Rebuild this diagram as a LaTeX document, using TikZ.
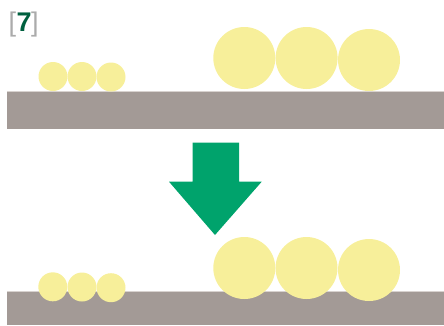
\documentclass[tikz,border=0pt]{standalone}
\usepackage{fontspec}
\setmainfont{Liberation Sans}
\definecolor{ball}{HTML}{F7EF9A}
\definecolor{bar}{HTML}{A39A96}
\definecolor{barline}{HTML}{D8D2CF}
\definecolor{arrowgreen}{HTML}{00A36C}
\definecolor{numgreen}{HTML}{00603F}
\definecolor{brk}{HTML}{ABABAB}
\begin{document}
\begin{tikzpicture}[x=1pt,y=-1pt,
  ballfill/.style={fill=ball},
  barfill/.style={fill=bar}]
\useasboundingbox (0,0) rectangle (444,325);
% top row
\fill[barfill] (7,91) rectangle (444,129);
\draw[barline,line width=0.8pt] (7,91) -- (444,91);
\fill[ballfill] (53,76.5) circle (14.5);
\fill[ballfill] (82,76.5) circle (14.5);
\fill[ballfill] (111,77) circle (14.5);
\fill[ballfill] (244.3,58) circle (31);
\fill[ballfill] (306.6,58) circle (31);
\fill[ballfill] (369,60) circle (31);
% arrow
\fill[arrowgreen] (192.5,142.5) -- (239,142.5) -- (239,181.7) -- (261.7,181.7)
  -- (215,235) -- (169,181.7) -- (192.5,181.7) -- cycle;
% bottom row
\fill[barfill] (7,291) rectangle (444,325);
\draw[barline,line width=0.8pt] (7,291) -- (444,291);
\fill[ballfill] (52.8,286.8) circle (14.5);
\fill[ballfill] (82,287) circle (14.5);
\fill[ballfill] (111,287.7) circle (14.5);
\fill[ballfill] (244.3,268) circle (31);
\fill[ballfill] (306.5,268) circle (31);
\fill[ballfill] (369,270) circle (31);
% label
\node[anchor=base west,inner sep=0pt] (lbl) at (8.4,31.7)
  {\fontsize{27}{27}\selectfont\color{brk}[\kern0.5pt\textcolor{numgreen}{\bfseries 7}\kern-0.5pt]};
\end{tikzpicture}
\end{document}
